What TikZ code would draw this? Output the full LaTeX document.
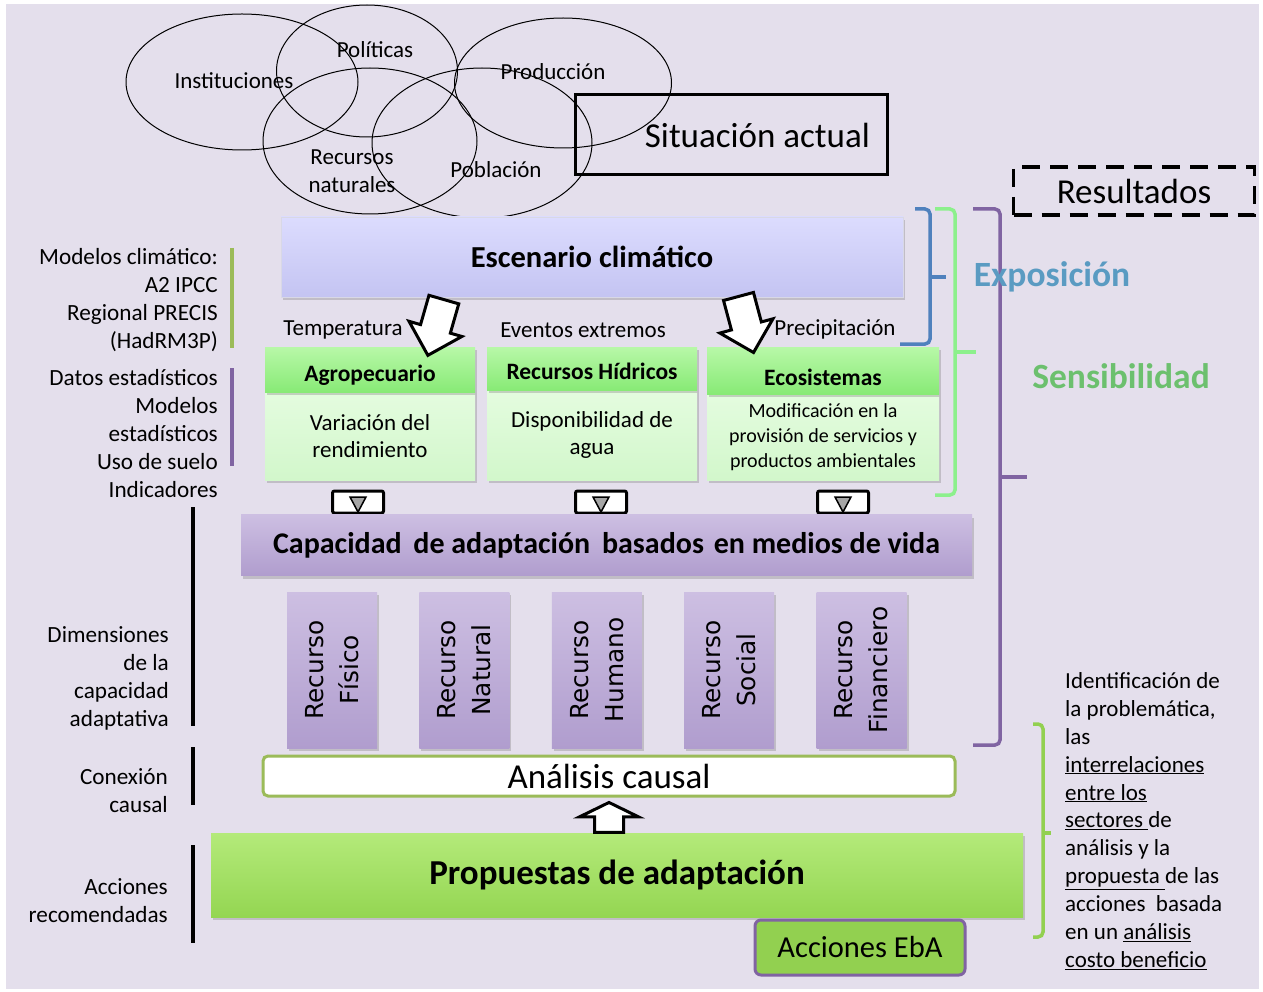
\documentclass[tikz,border=0pt]{standalone}
\usepackage{fontspec}
\setmainfont{Carlito}
\newfontfamily\recfont{DejaVu Sans}
\usetikzlibrary{shapes.geometric, shapes.arrows, shadows}

\newcommand\setfs[2]{\fontsize{#1}{#2}\selectfont}

\definecolor{bgc}{HTML}{E4DFEC}
\definecolor{scentop}{HTML}{DCDCFE}
\definecolor{scenbot}{HTML}{C4C4F2}
\definecolor{hdrtop}{HTML}{B8F8A8}
\definecolor{hdrbot}{HTML}{88EA76}
\definecolor{bodytop}{HTML}{E4FCDF}
\definecolor{bodybot}{HTML}{D2F7CB}
\definecolor{captop}{HTML}{CDBFE2}
\definecolor{capbot}{HTML}{B09DCE}
\definecolor{prtop}{HTML}{B4EA7A}
\definecolor{prbot}{HTML}{94D652}
\definecolor{ebaf}{HTML}{92D050}
\definecolor{ebad}{HTML}{8064A2}
\definecolor{ancd}{HTML}{9BBB59}
\definecolor{bluebr}{HTML}{4F81BD}
\definecolor{lgreenbr}{HTML}{8CF08C}
\definecolor{purbr}{HTML}{8064A2}
\definecolor{grnbr}{HTML}{92D050}
\definecolor{expoc}{HTML}{5A9BC2}
\definecolor{sensc}{HTML}{6CC06E}

\tikzset{
  bubble/.style={draw, ellipse, line width=1pt, inner sep=0pt},
  word/.style={font=\setfs{23}{28}, inner sep=1pt, align=center},
  side/.style={font=\setfs{23.2}{28}, inner sep=0pt},
  bar/.style={line width=4pt},
  brace/.style={line width=3.5pt, rounded corners=5pt},
  shade box/.style={inner sep=0pt,
    drop shadow={shadow xshift=2pt, shadow yshift=-3pt, opacity=.35}},
  hdr/.style={shade box, top color=hdrtop, bottom color=hdrbot,
    font=\bfseries\setfs{23.5}{26}, text depth=0pt, text height=#1},
  sbody/.style={shade box, top color=bodytop, bottom color=bodybot,
    align=center},
  lila/.style={shade box, top color=captop, bottom color=capbot},
  bigarrow/.style={single arrow, draw, fill=white, line width=3pt,
    inner xsep=0pt, inner ysep=14pt, minimum height=58pt,
    single arrow head extend=12pt},
  tribox/.style={draw, fill=white, line width=3pt, rounded corners=2pt,
    minimum width=51pt, minimum height=22pt, inner sep=0pt},
}

\begin{document}
\begin{tikzpicture}[x=1pt, y=-1pt]
  \useasboundingbox (0,0) rectangle (1263,992);
  \fill[bgc] (6,4) rectangle (1259,989);

  % situacion actual
  \node[bubble, minimum width=232pt, minimum height=136pt] (inst) at (242,82) {};
  \node[bubble, minimum width=181pt, minimum height=132pt] (poli) at (367,71) {};
  \node[bubble, minimum width=217pt, minimum height=130pt] (prod) at (563,83) {};
  \node[bubble, minimum width=214pt, minimum height=146pt] (recn) at (370,141) {};
  \node[bubble, minimum width=220pt, minimum height=150pt] (pobl) at (482,143) {};
  \node[word] (instT) at (234,81) {Instituciones};
  \node[word] (poliT) at (375,50) {Políticas};
  \node[word] (prodT) at (553,72) {Producción};
  \node[word] (recnT) at (352,171) {Recursos\\naturales};
  \node[word] (poblT) at (496,170) {Población};
  \node[draw, line width=3pt, minimum width=312pt, minimum height=80pt] (sit) at (731,135) {};
  \node[font=\setfs{35}{40}, anchor=east] (sitT) at ([xshift=-15pt]sit.east) {Situación actual};

  \node[draw, line width=3.5pt, dash pattern=on 18pt off 10pt,
    minimum width=241pt, minimum height=48pt, font=\setfs{35}{40}] (res) at (1134,191) {Resultados};

  % escenario y sectores
  \node[shade box, top color=scentop, bottom color=scenbot, draw=scenbot!80!black!40,
    minimum width=622pt, minimum height=80pt, font=\bfseries\setfs{30.5}{34}] (esc) at (592,257) {Escenario climático};

  \node[word] (tempT) at (343,330) {Temperatura};
  \node[word] (evenT) at (583,330) {Eventos extremos};
  \node[word] (precT) at (835,329) {Precipitación};

  \node[sbody, minimum width=210pt, minimum height=88pt, font=\setfs{23}{27}] (agroB) at (370,436) {Variación del\\rendimiento};
  \node[hdr=23pt, minimum width=210pt, minimum height=45pt] (agro) at (370,369.5) {Agropecuario};
  \node[sbody, minimum width=210pt, minimum height=90pt, font=\setfs{23}{27}] (hidrB) at (592,435) {Disponibilidad de\\agua};
  \node[hdr=21pt, minimum width=210pt, minimum height=43pt] (hidr) at (592,368.5) {Recursos Hídricos};
  \node[sbody, minimum width=232pt, minimum height=86pt, font=\setfs{20}{25}] (ecoB) at (823,437) {Modificación en la\\provisión de servicios y\\productos ambientales};
  \node[hdr=29pt, minimum width=232pt, minimum height=47pt] (eco) at (823,370.5) {Ecosistemas};

  \node[bigarrow, rotate=-106] (arrT) at (438,320) {};
  \node[bigarrow, rotate=-75] (arrP) at (744,317) {};

  \foreach \x [count=\k] in {358,601,843} {
    \node[tribox] (tri\k) at (\x,502) {};
    \filldraw[fill=gray!70, draw=black, line width=1.5pt] ({\x-8},497) -- ({\x+8},497) -- (\x,512) -- cycle;
  }

  % capacidad adaptativa
  \node[lila, minimum width=731pt, minimum height=61pt, font=\bfseries\setfs{30}{32}] (cap) at (606.5,545)
    {Capacidad\hspace{5pt} de adaptación\hspace{5pt} basados\hspace{3pt} en medios de vida};
  \foreach \nm [count=\i from 0] in {Físico, Natural, Humano, Social, Financiero} {
    \node[lila, minimum width=90pt, minimum height=156pt] (rec\i) at ({332+132.4*\i},670) {};
    \node[rotate=90, align=center, font=\recfont\setfs{24.8}{35}] (recT\i) at (rec\i.center) {Recurso\\\nm};
  }

  \node[draw=ancd, fill=white, line width=3pt, rounded corners=5pt, minimum width=692pt,
    minimum height=40pt, inner sep=0pt, font=\setfs{35}{38}] (anc) at (609,776) {Análisis causal};

  \node[shade box, top color=prtop, bottom color=prbot, minimum width=812pt, minimum height=84pt,
    font=\bfseries\setfs{35}{38}] (prop) at (617,875) {Propuestas de adaptación};
  \node[single arrow, draw, fill=white, line width=3pt, inner xsep=0pt, inner ysep=13pt, rotate=90,
    minimum height=30pt, single arrow head extend=15pt, single arrow tip angle=128] (up) at (609,821) {};
  \node[draw=ebad, fill=ebaf, line width=3pt, rounded corners=6pt, minimum width=210pt,
    minimum height=55pt, font=\setfs{30.5}{33}] (eba) at (860,947.5) {Acciones EbA};

  % llaves
  \draw[brace, bluebr] (915,209) -- (930,209) -- (930,344) -- (900,344);
  \draw[brace, bluebr] (930,277) -- (946,277);
  \draw[brace, lgreenbr] (935,209) -- (955,209) -- (955,495) -- (935,495);
  \draw[brace, lgreenbr] (955,352) -- (976,352);
  \draw[brace, purbr] (973,209) -- (1000,209) -- (1000,745) -- (973,745);
  \draw[brace, purbr] (1000,477) -- (1027,477);
  \draw[brace, grnbr] (1033,724) -- (1043,724) -- (1043,937) -- (1033,937);
  \draw[brace, grnbr] (1043,833) -- (1051,833);

  \node[font=\bfseries\setfs{35.5}{38}, text=expoc] (expo) at (1052,277) {Exposición};
  \node[font=\bfseries\setfs{35.5}{38}, text=sensc] (sens) at (1121,376) {Sensibilidad};

  % textos laterales
  \draw[bar, ancd] (232,248) -- (232,348);
  \draw[bar, purbr] (232,368) -- (232,466);
  \draw[bar] (193,507) -- (193,726);
  \draw[bar] (193,747) -- (193,805);
  \draw[bar] (193,845) -- (193,943);
  \node[side, anchor=east, align=right] (modT) at (218,300) {Modelos climático:\\A2 IPCC\\Regional PRECIS\\(HadRM3P)};
  \node[side, anchor=east, align=right] (datT) at (218,434) {Datos estadísticos\\Modelos\\estadísticos\\Uso de suelo\\Indicadores};
  \node[side, anchor=east, align=right] (dimT) at (169,678) {Dimensiones\\de la\\capacidad\\adaptativa};
  \node[side, anchor=east, align=right] (conT) at (168,791) {Conexión\\causal};
  \node[side, anchor=east, align=right] (accT) at (168,901) {Acciones\\recomendadas};

  \node[side, anchor=west, align=left, font=\setfs{23}{27.9}] (idT) at (1065,821)
    {Identificación de\\la problemática,\\las\\\underline{interrelaciones}\\\underline{entre los}\\
     \underline{sectores\ }de\\análisis y la\\\underline{propuesta\ }de las\\acciones\ \ basada\\
     en un \underline{análisis}\\\underline{costo beneficio}};
\end{tikzpicture}
\end{document}
